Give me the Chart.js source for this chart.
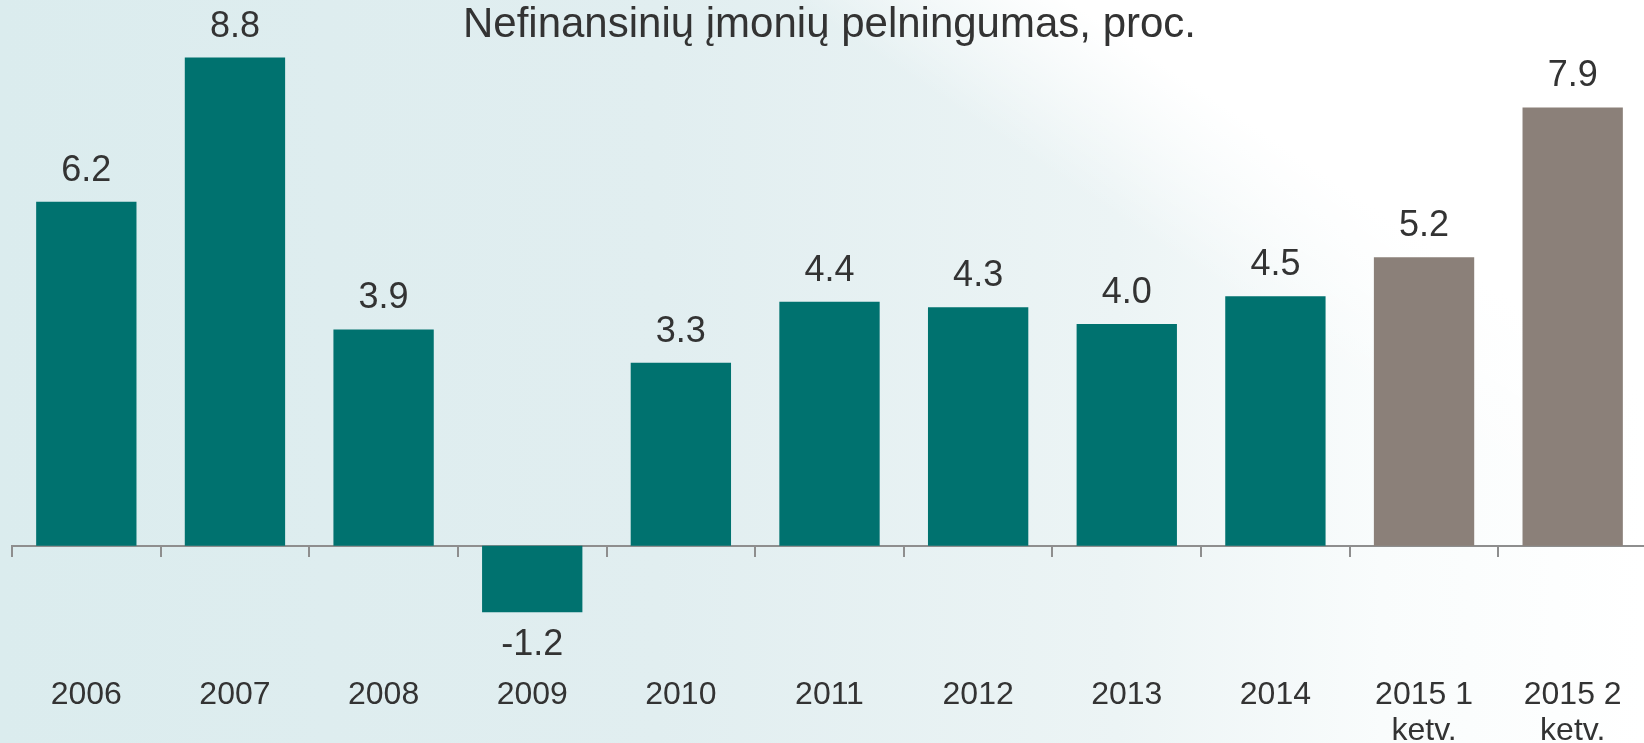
<html>
    <head>
        <meta charset="utf-8">
        <script src="https://cdn.jsdelivr.net/npm/chart.js@4.4.1/dist/chart.umd.min.js"></script>
        <style>
            html, body { margin: 0; padding: 0; overflow: hidden; }
            body {
                width: 1644px;
                height: 743px;
                background:
                    linear-gradient(214deg, #ffffff 0%, #ffffff 21%, rgba(255,255,255,0) 31%),
                    linear-gradient(90deg, #dbecee 0%, #e1eef0 40%, #ecf4f5 68%, #f9fcfc 84%, #ffffff 100%);
            }
            .chart-container { position: relative; width: 1658px; height: 758px; }
        </style>
    </head>

    <body>

        <div class="chart-container">
            <canvas id="myChart"></canvas>
        </div>

        <script>
            const categories = ['2006', '2007', '2008', '2009', '2010', '2011', '2012', '2013', '2014',
                ['2015 1', 'ketv.'], ['2015 2', 'ketv.']];
            const values = [6.2, 8.8, 3.9, -1.2, 3.3, 4.4, 4.3, 4.0, 4.5, 5.2, 7.9];
            const title = 'Nefinansinių įmonių pelningumas, proc.';

            const TEAL = '#00726f';
            const GREY = '#8b8079';
            const AXIS = '#8e8e8e';
            const TEXT = '#333333';
            const FONT = "'Liberation Sans', Arial, sans-serif";

            // value labels above (or below, for negatives) each bar
            const valueLabels = {
                id: 'valueLabels',
                afterDatasetsDraw(chart) {
                    const ctx = chart.ctx;
                    const meta = chart.getDatasetMeta(0);
                    ctx.save();
                    ctx.font = '36px ' + FONT;
                    ctx.fillStyle = TEXT;
                    ctx.textAlign = 'center';
                    ctx.textBaseline = 'middle';
                    meta.data.forEach((bar, i) => {
                        const v = values[i];
                        const y = v >= 0 ? bar.y - 31 : bar.y + 33;
                        ctx.fillText(v.toFixed(1), bar.x, y);
                    });
                    ctx.restore();
                }
            };

            const ctx = document.getElementById('myChart').getContext('2d');
            const myChart = new Chart(ctx, {
                type: 'bar',
                data: {
                    labels: categories,
                    datasets: [{
                        data: values,
                        backgroundColor: c => Array.isArray(categories[c.dataIndex]) ? GREY : TEAL,
                        borderWidth: 0,
                        categoryPercentage: 1,
                        barPercentage: 0.675,
                        xAxisID: 'x',
                        yAxisID: 'y'
                    }]
                },
                options: {
                    responsive: true,
                    maintainAspectRatio: false,
                    animation: false,
                    layout: { padding: { left: 12, right: 11, top: 0, bottom: 0 } },
                    plugins: {
                        legend: { display: false },
                        tooltip: { enabled: false },
                        title: {
                            display: true,
                            text: title,
                            color: TEXT,
                            font: { family: FONT, size: 42, weight: 'normal', lineHeight: 1.2 },
                            padding: { top: 0, bottom: 0 }
                        }
                    },
                    scales: {
                        x: {
                            position: 'bottom',
                            offset: true,
                            grid: { display: false, drawTicks: false },
                            border: { display: false },
                            ticks: {
                                color: TEXT,
                                padding: 8,
                                maxRotation: 0,
                                autoSkip: false,
                                font: { family: FONT, size: 32, lineHeight: 1.15 }
                            }
                        },
                        x2: {
                            type: 'category',
                            labels: categories,
                            position: { y: 0 },
                            offset: true,
                            ticks: { display: false },
                            grid: {
                                offset: true,
                                drawOnChartArea: false,
                                drawTicks: true,
                                tickLength: 10,
                                color: AXIS,
                                lineWidth: 2
                            },
                            border: { display: true, color: AXIS, width: 2 }
                        },
                        y: {
                            display: false,
                            min: -2.21,
                            max: 8.93
                        }
                    }
                },
                plugins: [valueLabels]
            });
        </script>
    </body>
</html>
